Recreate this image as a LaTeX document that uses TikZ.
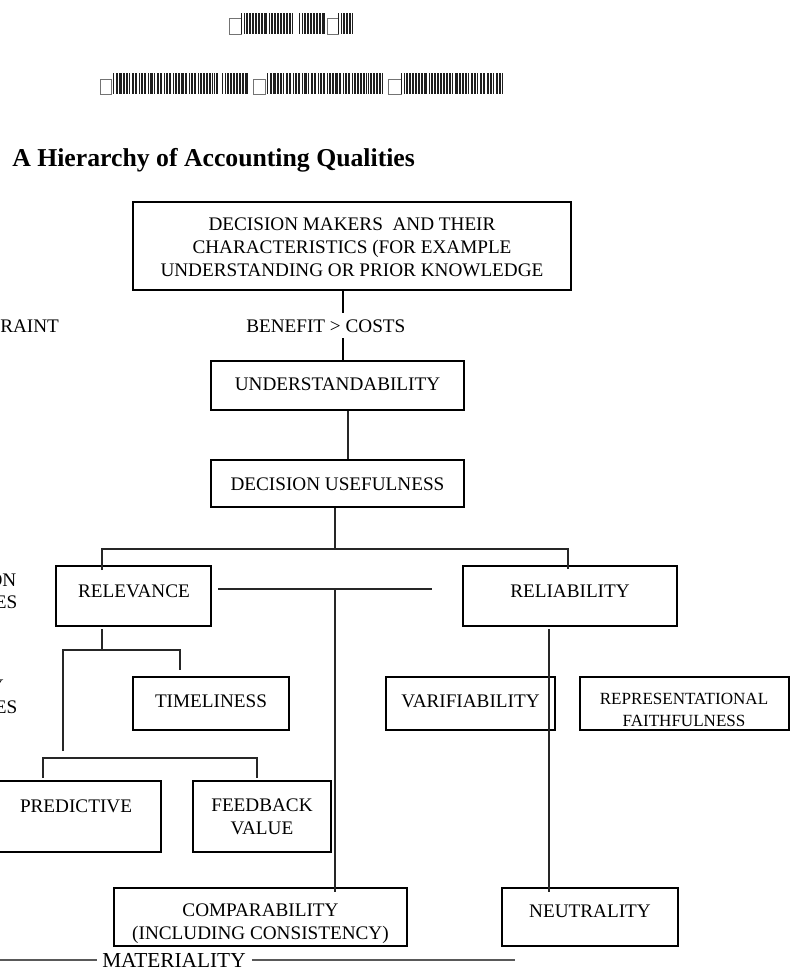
\documentclass[tikz,border=0pt]{standalone}
\usepackage{fontspec}
\setmainfont{Liberation Serif}
\usetikzlibrary{fit}
\newcommand\grsq[4]{\draw[black!55, line width=0.6pt] (#1,#2) rectangle (#3,#4);}
\newcommand\grbar[4]{%
  \begin{scope}
    \clip (#1,#2) rectangle (#3,#4);
    \fill[black!88] (#1,#2) rectangle (#3,#4);
    \foreach \xx in {0,3.1,...,160} \draw[white, line width=0.4pt] ({#1+\xx+1},#2) -- ({#1+\xx+1},#4);
    \foreach \xx in {0,8.3,...,160} \draw[white, line width=0.6pt] ({#1+\xx+2.4},#2) -- ({#1+\xx+2.4},#4);
  \end{scope}}
\begin{document}
\begin{tikzpicture}[x=0.75pt,y=-0.75pt,
  bx/.style={draw=black, line width=1.4pt, inner sep=0pt},
  bxthin/.style={draw=black, line width=0.9pt, inner sep=0pt},
  tx/.style={inner sep=0pt, font=\fontsize{14.4}{17.25}\selectfont, align=center},
  txs/.style={inner sep=0pt, font=\fontsize{12.8}{16.5}\selectfont, align=center},
  cn/.style={draw=black!85, line width=1.1pt},
  cnk/.style={draw=black, line width=1.5pt},
  ]
\useasboundingbox (0,0) rectangle (791,968);

% garbled heading lines
\grsq{229}{18}{241}{34}
\grbar{241}{13}{294}{34}
\grbar{299}{13}{327}{34}
\grsq{327}{18}{338}{34}
\grbar{338}{13}{353}{34}
\grsq{100}{79}{111.5}{94}
\grbar{111.5}{73}{218}{94}
\grbar{222}{73}{248}{94}
\grsq{253}{79}{265.5}{94}
\grbar{265.5}{73}{383}{94}
\grsq{388}{79}{401}{94}
\grbar{401}{73}{505}{94}

% title
\node[anchor=base west, inner sep=0pt, font=\bfseries\fontsize{19.3}{23}\selectfont] (title) at (12,166) {A Hierarchy of Accounting Qualities};

% left partial labels (cut by the page edge as in the reference)
\node[tx, anchor=base west] (l1) at (0,332) {RAINT};
\node[tx, anchor=base east] (l2) at (16.5,586) {ON};
\node[tx, anchor=base east] (l3) at (17.5,608) {ES};
\node[tx, anchor=base east] (l4) at (4,692) {Y};
\node[tx, anchor=base east] (l5) at (17.5,713) {ES};

% boxes
\node[bx, fit={(133,202) (571,290)}] (b1) {};
\node[tx] (t1) at (352,247.5) {DECISION MAKERS\ \ AND THEIR\\CHARACTERISTICS (FOR EXAMPLE\\UNDERSTANDING OR PRIOR KNOWLEDGE};

\node[tx, anchor=base west, inner ysep=4.5pt, fill=white] (ben) at (246,332) {BENEFIT > COSTS};

\node[bx, fit={(211,361) (464,410)}] (b2) {};
\node[tx, anchor=base] (t2) at (337.5,390) {UNDERSTANDABILITY};

\node[bx, fit={(211,460) (464,507)}] (b3) {};
\node[tx, anchor=base] (t3) at (337.5,490.5) {DECISION USEFULNESS};

\node[bx, fit={(56,566) (211,626)}] (brel) {};
\node[tx, anchor=base] (trel) at (134,597) {RELEVANCE};

\node[bx, fit={(463,566) (677,626)}] (brli) {};
\node[tx, anchor=base] (trli) at (570,597) {RELIABILITY};

\node[bx, fit={(133,677) (289,730)}] (btim) {};
\node[tx, anchor=base] (ttim) at (211,707) {TIMELINESS};

\node[bx, fit={(386,677) (555,730)}] (bver) {};
\node[tx, anchor=base] (tver) at (470.5,707) {VARIFIABILITY};

\node[bx, fit={(580,677) (789,730)}] (brep) {};
\node[txs] (trep) at (684,709.5) {REPRESENTATIONAL\\FAITHFULNESS};

\node[bx, fit={(-9,781) (161,852)}] (bpre) {};
\node[tx, anchor=base] (tpre) at (76,812) {PREDICTIVE};

\node[bx, fit={(193,781) (331,852)}] (bfee) {};
\node[tx] (tfee) at (262,816.5) {FEEDBACK\\VALUE};

\node[bxthin, fit={(114,888) (407,946)}] (bcom) {};
\node[tx] (tcom) at (260.5,923.5) {COMPARABILITY\\(INCLUDING CONSISTENCY)};

\node[bxthin, fit={(502,888) (678,946)}] (bneu) {};
\node[tx, anchor=base] (tneu) at (590,917) {NEUTRALITY};

% connectors
\coordinate (v1) at (343,0);
\coordinate (v2) at (348,0);
\draw[cnk] (b1.south -| v1) -- (ben.north -| v1);
\draw[cnk] (ben.south -| v1) -- (b2.north -| v1);
\draw[cn] (b2.south -| v2) -- (b3.north -| v2);

\coordinate (j1) at (335,549);
\coordinate (jl) at (102,549);
\coordinate (jr) at (568,549);
\coordinate (el) at (102,570);
\coordinate (er) at (568,569);
\draw[cn] (b3.south -| j1) -- (j1);
\draw[cn] (el) -- (jl) -- (jr) -- (er);

\coordinate (h1) at (218,589);
\coordinate (h2) at (432,589);
\coordinate (h3) at (335,589);
\coordinate (ce) at (335,892);
\draw[cn] (h1) -- (h2);
\draw[cn] (h3) -- (ce);

\coordinate (r1) at (102,629);
\coordinate (r2) at (102,650);
\coordinate (r3) at (63,650);
\coordinate (r4) at (180,650);
\coordinate (r5) at (180,670);
\coordinate (r6) at (63,751);
\draw[cn] (r1) -- (r2);
\draw[cn] (r6) -- (r3) -- (r4) -- (r5);

\coordinate (s1) at (549,629);
\coordinate (s2) at (549,892);
\draw[cn] (s1) -- (s2);

\coordinate (p1) at (43,778);
\coordinate (p2) at (43,758);
\coordinate (p3) at (257,758);
\coordinate (p4) at (257,778);
\draw[cn] (p1) -- (p2) -- (p3) -- (p4);

% materiality
\node[anchor=base west, inner sep=0pt, font=\fontsize{16}{19}\selectfont] (mat) at (102,967) {MATERIALITY};
\coordinate (m1) at (0,960);
\coordinate (m2) at (515,960);
\draw[draw=black!65, line width=1.1pt] (m1) -- ([xshift=-3.5pt]mat.west |- m1);
\draw[draw=black!65, line width=1.1pt] ([xshift=4.5pt]mat.east |- m2) -- (m2);
\end{tikzpicture}
\end{document}
